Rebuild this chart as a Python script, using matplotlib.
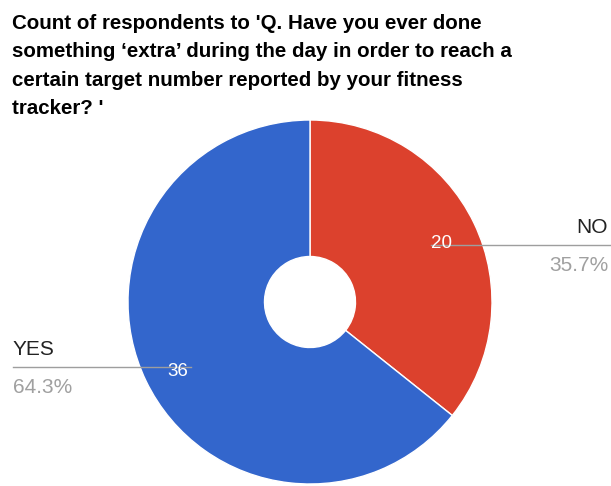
import numpy as np
import matplotlib
matplotlib.use("Agg")
import matplotlib.pyplot as plt

# data
labels = ["NO", "YES"]
counts = [20, 36]
colors = ["#DC412D", "#3366CC"]
title = ("Count of respondents to 'Q. Have you ever done\n"
         "something \u2018extra\u2019 during the day in order to reach a\n"
         "certain target number reported by your fitness\n"
         "tracker? '")

plt.rcParams['font.family'] = ['Liberation Sans', 'DejaVu Sans']

W, H = 611, 486
fig = plt.figure(figsize=(W / 100, H / 100), dpi=100)

# pie centre / radius in pixels
cx, cy, r = 310, 302, 182
ax = fig.add_axes([(cx - r) / W, (H - cy - r) / H, 2 * r / W, 2 * r / H])

wedges, texts, autotexts = ax.pie(
    counts, colors=colors, startangle=90, counterclock=False,
    autopct=lambda p: "%d" % round(p * sum(counts) / 100),
    pctdistance=0.8,
    wedgeprops=dict(width=0.75, edgecolor="white", linewidth=1),
    textprops=dict(color="white", fontsize=13.5))
ax.set_xlim(-1, 1)
ax.set_ylim(-1, 1)
ax.set_aspect("equal")
ax.axis("off")


def px(x, y):
    # pixel position -> pie data coords
    return (x - cx) / r, (cy - y) / r


# label / leader-line layout (pixels): value text centre, line y
layout = [((442, 243), 245), ((178, 372), 367)]

total = sum(counts)
xr = px(W - 1, 0)[0]
xl = px(13, 0)[0]
for lab, c, at, (vpos, liney) in zip(labels, counts, autotexts, layout):
    vx, vy = px(*vpos)
    at.set_position((vx, vy))
    at.set_zorder(3)
    ly = px(0, liney)[1]
    pct = "%.1f%%" % (100.0 * c / total)
    if vx > 0:
        ax.plot([vx - 0.06, xr], [ly, ly], color="#9e9e9e", lw=1, clip_on=False, zorder=1)
        ax.text(xr - 0.01, ly + 0.045, lab, ha="right", va="bottom", fontsize=15,
                color="#222222", clip_on=False)
        ax.text(xr - 0.01, ly - 0.06, pct, ha="right", va="top", fontsize=15,
                color="#a0a0a0", clip_on=False)
    else:
        ax.plot([xl, vx + 0.07], [ly, ly], color="#9e9e9e", lw=1, clip_on=False, zorder=1)
        ax.text(xl, ly + 0.045, lab, ha="left", va="bottom", fontsize=15,
                color="#222222", clip_on=False)
        ax.text(xl, ly - 0.06, pct, ha="left", va="top", fontsize=15,
                color="#a0a0a0", clip_on=False)

fig.text(12 / W, 1 - 14 / H, title, ha="left", va="top", fontsize=14.8,
         fontweight="bold", color="#000000", linespacing=1.63)

fig.savefig("out.png", dpi=100)
